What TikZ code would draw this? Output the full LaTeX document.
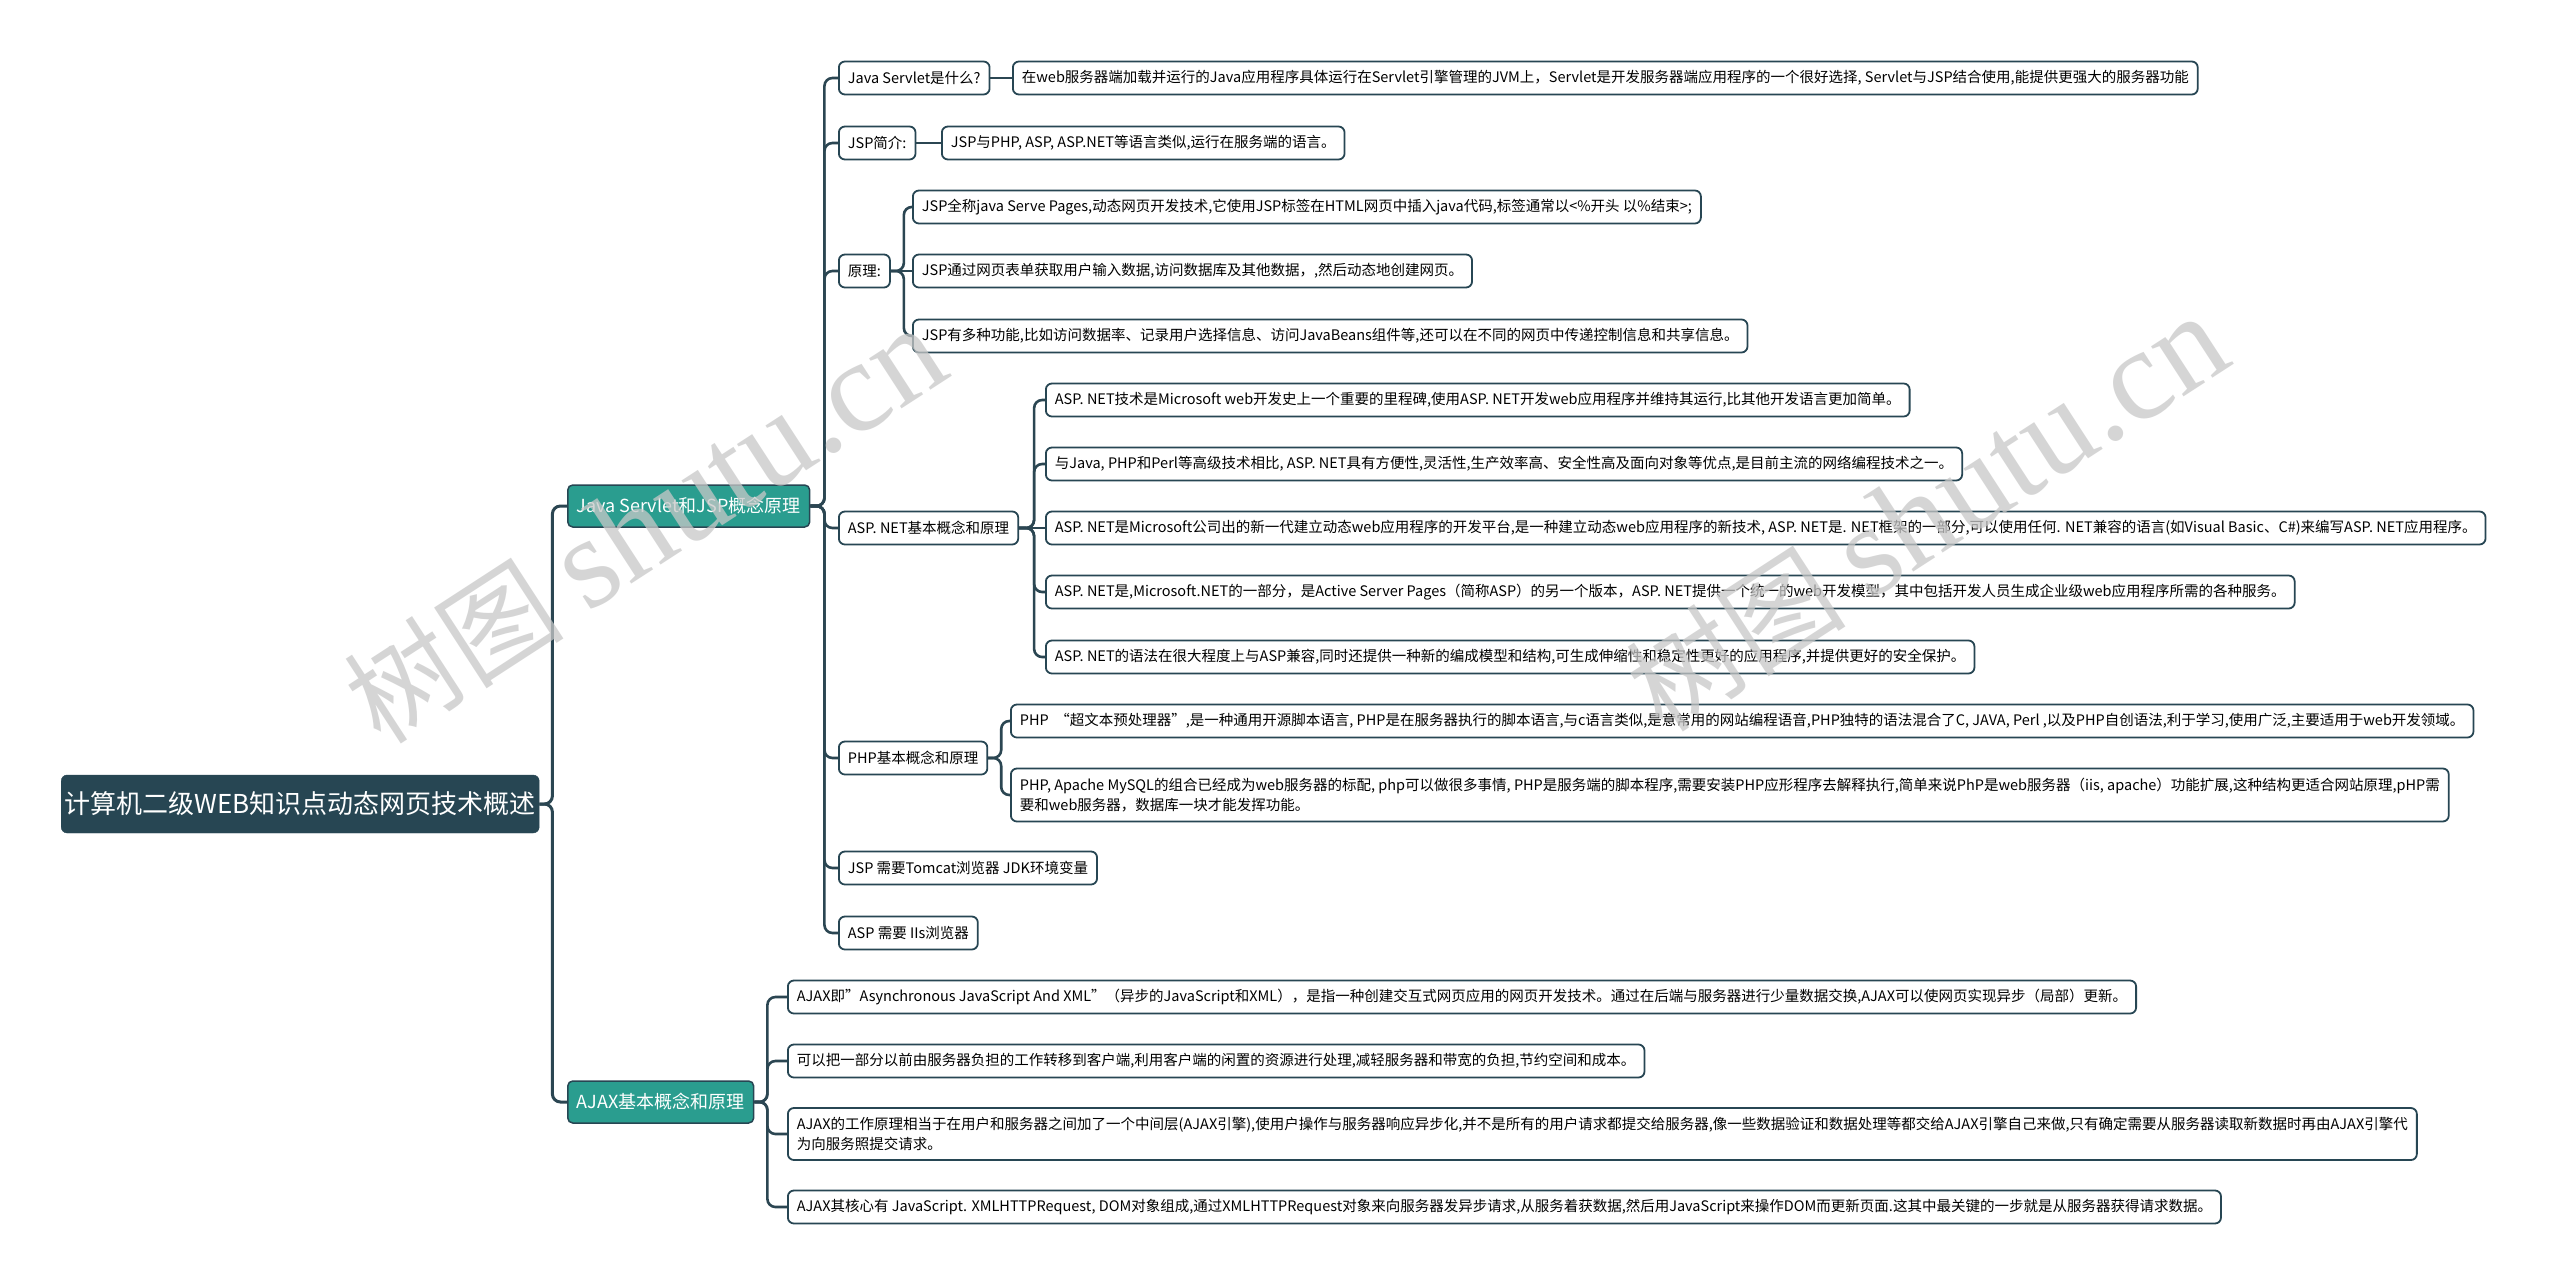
\documentclass[tikz,border=0pt]{standalone}
\usepackage{fontspec}
\setmainfont{Noto Sans CJK SC}
\newfontfamily\wmlat{Liberation Serif}
\newfontfamily\wmcjk{Noto Sans CJK SC}
\definecolor{dk}{HTML}{274653}
\definecolor{tl}{HTML}{2A9D8F}
\definecolor{ln}{HTML}{2B4652}
\definecolor{wm}{HTML}{C8C8C8}
\tikzset{
  rootbox/.style={fill=dk, draw=dk, rounded corners=6pt, text=white, font=\fontsize{26}{30}\selectfont, anchor=west, minimum width=478pt, minimum height=58pt, inner sep=0pt},
  l1box/.style={fill=tl, draw=dk, line width=1.5pt, rounded corners=5pt, text=white, font=\fontsize{18}{22}\selectfont, anchor=west, minimum height=42pt, inner xsep=9pt, inner ysep=0pt},
  leaf/.style={draw=dk, line width=1.8pt, fill=white, rounded corners=6pt, font=\fontsize{14.5}{19.5}\selectfont, anchor=west, minimum height=33pt, inner xsep=9pt, inner ysep=0pt, align=left},
  conn/.style={draw=ln, line width=2.6pt, rounded corners=8pt},
  wmark/.style={text=wm, opacity=0.75, rotate=33, inner sep=0pt},
}
\begin{document}
\begin{tikzpicture}[x=1pt, y=-1pt]
\useasboundingbox[fill=white] (0,0) rectangle (2560,1287);

% root and level 1
\node[rootbox] (root) at (61,804) {计算机二级WEB知识点动态网页技术概述};
\node[l1box] (jsp) at (567,506) {Java Servlet和JSP概念原理};
\node[l1box] (ajax) at (567,1102) {AJAX基本概念和原理};

% level 2
\node[leaf] (a1) at (838,78) {Java Servlet是什么?};
\node[leaf] (a2) at (838,143) {JSP简介:};
\node[leaf] (a3) at (838,271) {原理:};
\node[leaf] (a4) at (838,528) {ASP. NET基本概念和原理};
\node[leaf] (a5) at (838,758) {PHP基本概念和原理};
\node[leaf] (a6) at (838,868) {JSP 需要Tomcat浏览器 JDK环境变量};
\node[leaf] (a7) at (838,933) {ASP 需要 IIs浏览器};

% level 3
\node[leaf] (a1c) at (1012,78) {在web服务器端加载并运行的Java应用程序具体运行在Servlet引擎管理的JVM上，Servlet是开发服务器端应用程序的一个很好选择, Servlet与JSP结合使用,能提供更强大的服务器功能};
\node[leaf] (a2c) at (941,143) {JSP与PHP, ASP, ASP.NET等语言类似,运行在服务端的语言。};

\node[leaf] (a3c1) at (912,207) {JSP全称java Serve Pages,动态网页开发技术,它使用JSP标签在HTML网页中插入java代码,标签通常以<\%开头 以\%结束>;};
\node[leaf] (a3c2) at (912,271) {JSP通过网页表单获取用户输入数据,访问数据库及其他数据，,然后动态地创建网页。};
\node[leaf] (a3c3) at (912,336) {JSP有多种功能,比如访问数据率、记录用户选择信息、访问JavaBeans组件等,还可以在不同的网页中传递控制信息和共享信息。};

\node[leaf] (a4c1) at (1045,400) {ASP. NET技术是Microsoft web开发史上一个重要的里程碑,使用ASP. NET开发web应用程序并维持其运行,比其他开发语言更加简单。};
\node[leaf] (a4c2) at (1045,464) {与Java, PHP和Perl等高级技术相比, ASP. NET具有方便性,灵活性,生产效率高、安全性高及面向对象等优点,是目前主流的网络编程技术之一。};
\node[leaf] (a4c3) at (1045,528) {ASP. NET是Microsoft公司出的新一代建立动态web应用程序的开发平台,是一种建立动态web应用程序的新技术, ASP. NET是. NET框架的一部分,可以使用任何. NET兼容的语言(如Visual Basic、C\#)来编写ASP. NET应用程序。};
\node[leaf] (a4c4) at (1045,592) {ASP. NET是,Microsoft.NET的一部分，是Active Server Pages（简称ASP）的另一个版本，ASP. NET提供一个统一的web开发模型，其中包括开发人员生成企业级web应用程序所需的各种服务。};
\node[leaf] (a4c5) at (1045,657) {ASP. NET的语法在很大程度上与ASP兼容,同时还提供一种新的编成模型和结构,可生成伸缩性和稳定性更好的应用程序,并提供更好的安全保护。};

\node[leaf] (a5c1) at (1010,721) {PHP \ “超文本预处理器”,是一种通用开源脚本语言, PHP是在服务器执行的脚本语言,与c语言类似,是意常用的网站编程语音,PHP独特的语法混合了C, JAVA, Perl ,以及PHP自创语法,利于学习,使用广泛,主要适用于web开发领域。};
\node[leaf, minimum height=53pt] (a5c2) at (1010,795) {PHP, Apache MySQL的组合已经成为web服务器的标配, php可以做很多事情, PHP是服务端的脚本程序,需要安装PHP应形程序去解释执行,简单来说PhP是web服务器（iis, apache）功能扩展,这种结构更适合网站原理,pHP需\\要和web服务器，数据库一块才能发挥功能。};

\node[leaf] (b1) at (787,997) {AJAX即”Asynchronous JavaScript And XML”（异步的JavaScript和XML），是指一种创建交互式网页应用的网页开发技术。通过在后端与服务器进行少量数据交换,AJAX可以使网页实现异步（局部）更新。};
\node[leaf] (b2) at (787,1061) {可以把一部分以前由服务器负担的工作转移到客户端,利用客户端的闲置的资源进行处理,减轻服务器和带宽的负担,节约空间和成本。};
\node[leaf, minimum height=52pt] (b3) at (787,1134) {AJAX的工作原理相当于在用户和服务器之间加了一个中间层(AJAX引擎),使用户操作与服务器响应异步化,并不是所有的用户请求都提交给服务器,像一些数据验证和数据处理等都交给AJAX引擎自己来做,只有确定需要从服务器读取新数据时再由AJAX引擎代\\为向服务照提交请求。};
\node[leaf] (b4) at (787,1207) {AJAX其核心有 JavaScript. XMLHTTPRequest, DOM对象组成,通过XMLHTTPRequest对象来向服务器发异步请求,从服务着获数据,然后用JavaScript来操作DOM而更新页面.这其中最关键的一步就是从服务器获得请求数据。};

% connectors
\foreach \c in {jsp,ajax} \draw[conn, line width=3pt] (root.east) -- ++(13,0) |- (\c.west);
\foreach \c in {a1,a2,a3,a4,a5,a6,a7} \draw[conn] (jsp.east) -- ++(14,0) |- (\c.west);
\draw[conn] (a1.east) -- (a1c.west);
\draw[conn] (a2.east) -- (a2c.west);
\foreach \c in {a3c1,a3c3} \draw[conn] (a3.east) -- ++(13,0) |- (\c.west);
\draw[conn] (a3.east) -- (a3c2.west);
\foreach \c in {a4c1,a4c2,a4c4,a4c5} \draw[conn] (a4.east) -- ++(15,0) |- (\c.west);
\draw[conn] (a4.east) -- (a4c3.west);
\foreach \c in {a5c1,a5c2} \draw[conn] (a5.east) -- ++(13,0) |- (\c.west);
\foreach \c in {b1,b2,b3,b4} \draw[conn] (ajax.east) -- ++(13,0) |- (\c.west);

% watermarks
\node[wmark] (wm1) at (645,526) {\wmcjk\fontsize{110}{120}\selectfont 树图 \wmlat\fontsize{130}{140}\selectfont shutu.cn};
\node[wmark] (wm2) at (1927,514) {\wmcjk\fontsize{110}{120}\selectfont 树图 \wmlat\fontsize{130}{140}\selectfont shutu.cn};
\end{tikzpicture}
\end{document}
